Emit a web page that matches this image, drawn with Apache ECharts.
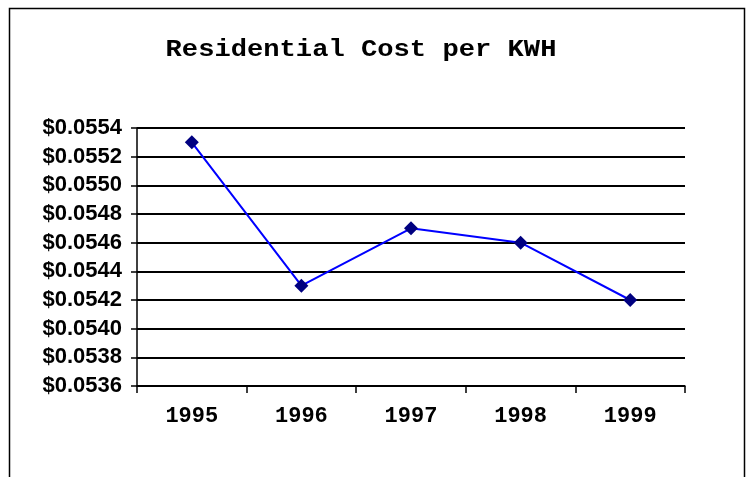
<!DOCTYPE html>
<html>
<head>
<meta charset="utf-8">
<script src="https://cdn.jsdelivr.net/npm/echarts@6/dist/echarts.min.js"></script>
<style>
  html, body { margin: 0; padding: 0; background: #fff; }
  #chart { width: 749px; height: 477px; }
</style>
</head>
<body>
<div id="chart"></div>
<script>
'use strict'

const chartTitle = 'Residential Cost per KWH';
const years = ['1995', '1996', '1997', '1998', '1999'];
const costPerKwh = [0.0553, 0.0543, 0.0547, 0.0546, 0.0542];
const yMin = 0.0536;
const yMax = 0.0554;
const yStep = 0.0002;

const chart = echarts.init(document.getElementById('chart'));

const option = {
    backgroundColor: '#fff',
    animation: false,
    graphic: [
        {
            type: 'rect',
            shape: { x: 9.5, y: 8.5, width: 735, height: 500 },
            style: { fill: 'none', stroke: '#000', lineWidth: 1.5 },
            silent: true
        },
        {
            type: 'text',
            x: 361,
            y: 50,
            scaleX: 1.18,
            originX: 0,
            originY: 0,
            style: {
                text: chartTitle,
                fontFamily: '"Liberation Mono", "Courier New", monospace',
                fontWeight: 'bold',
                fontSize: 23,
                fill: '#000',
                align: 'center',
                verticalAlign: 'middle'
            }
        }
    ],
    grid: {
        left: 137,
        right: 64,
        top: 128,
        bottom: 91
    },
    xAxis: {
        type: 'category',
        data: years,
        boundaryGap: true,
        axisLine: { lineStyle: { color: '#000', width: 1.5 } },
        axisTick: { show: true, length: 7, lineStyle: { color: '#000', width: 1.5 } },
        axisLabel: {
            margin: 19,
            color: '#000',
            fontFamily: '"Liberation Mono", "Courier New", monospace',
            fontWeight: 'bold',
            fontSize: 22
        },
        splitLine: { show: false }
    },
    yAxis: {
        type: 'value',
        min: yMin,
        max: yMax,
        interval: yStep,
        axisLine: { show: true, lineStyle: { color: '#000', width: 1.5 } },
        axisTick: { show: true, length: 6, lineStyle: { color: '#000', width: 1.5 } },
        axisLabel: {
            margin: 15,
            color: '#000',
            fontFamily: '"Liberation Sans", Arial, sans-serif',
            fontWeight: 'bold',
            fontSize: 22,
            formatter: v => '$' + v.toFixed(4)
        },
        splitLine: { show: true, lineStyle: { color: '#000', width: 2 } }
    },
    series: [
        {
            name: 'Cost per KWH',
            type: 'line',
            data: costPerKwh,
            symbol: 'diamond',
            symbolSize: 14,
            lineStyle: { color: '#0000ff', width: 2 },
            itemStyle: { color: '#000080' }
        }
    ]
};

option && chart.setOption(option);
</script>
</body>
</html>
